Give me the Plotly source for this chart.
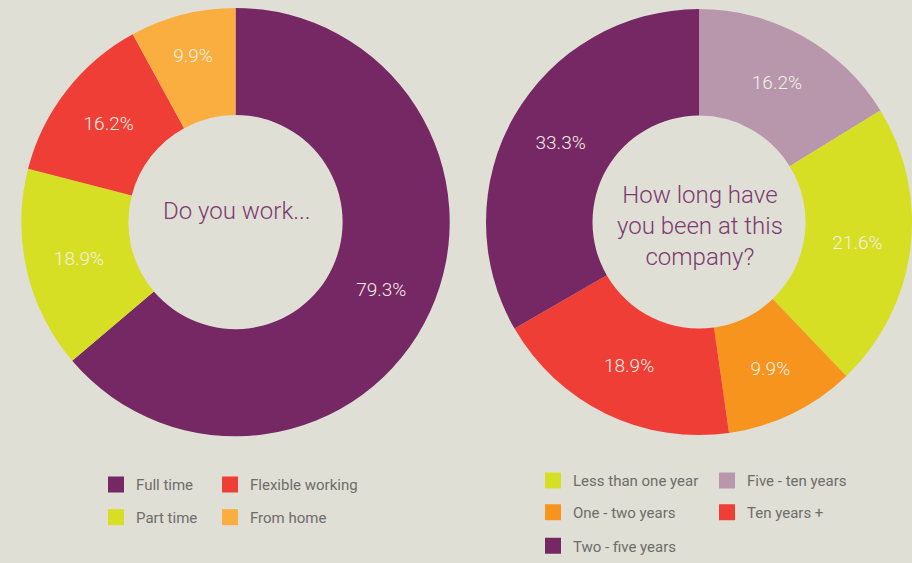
import plotly.graph_objects as go

# ---- data ----
work_labels = ["Full time", "Part time", "Flexible working", "From home"]
work_values = [79.3, 18.9, 16.2, 9.9]

tenure_labels = ["Five - ten years", "Less than one year", "One - two years", "Ten years +", "Two - five years"]
tenure_values = [16.2, 21.6, 9.9, 18.9, 33.3]

work_title = "Do you work..."
tenure_title = "How long have<br>you been at this<br>company?"

# ---- styles ----
PURPLE = "#752864"
LIME = "#d6df24"
RED = "#ef3e36"
LIGHT_ORANGE = "#fbae40"
ORANGE = "#f7941d"
MAUVE = "#b897ac"
BG = "#e0dfd5"
TITLE_COLOR = "#7b3a70"
LABEL_COLOR = "#f4f0e6"
LEGEND_TEXT = "#6d6d6a"
FONT = "Roboto"

color_map = {
    "Full time": PURPLE, "Part time": LIME, "Flexible working": RED, "From home": LIGHT_ORANGE,
    "Five - ten years": MAUVE, "Less than one year": LIME, "One - two years": ORANGE,
    "Ten years +": RED, "Two - five years": PURPLE,
}

W, H = 912, 563

fig = go.Figure()

fig.add_trace(go.Pie(
    labels=work_labels, values=work_values, sort=False, direction="clockwise", rotation=0,
    hole=0.5, marker=dict(colors=[color_map[l] for l in work_labels], line=dict(width=0)),
    texttemplate="%{value:.1f}%", textposition="inside", insidetextorientation="horizontal",
    insidetextfont=dict(family=FONT, size=19, color=LABEL_COLOR, weight=300),
    domain=dict(x=[19 / W, 452 / W], y=[1 - 441 / H, 1 - 8 / H]),
    showlegend=False, hoverinfo="label+value",
))

fig.add_trace(go.Pie(
    labels=tenure_labels, values=tenure_values, sort=False, direction="clockwise", rotation=0,
    hole=0.5, marker=dict(colors=[color_map[l] for l in tenure_labels], line=dict(width=0)),
    texttemplate="%{value:.1f}%", textposition="inside", insidetextorientation="horizontal",
    insidetextfont=dict(family=FONT, size=19, color=LABEL_COLOR, weight=300),
    domain=dict(x=[486 / W, 1.0], y=[1 - 441 / H, 1 - 8 / H]),
    showlegend=False, hoverinfo="label+value",
))

title_font = dict(family=FONT, size=24, color=TITLE_COLOR, weight=300)
annotations = [
    dict(text=work_title, x=236 / W, y=1 - 213 / H, xref="paper", yref="paper",
         xanchor="center", yanchor="middle", showarrow=False, align="center", font=title_font),
    dict(text=tenure_title, x=700 / W, y=1 - 228 / H, xref="paper", yref="paper",
         xanchor="center", yanchor="middle", showarrow=False, align="center", font=title_font),
]

# legend entries laid out like the reference (rows of swatches)
legend_layout = [
    ("Full time", 108, 490), ("Flexible working", 222, 490),
    ("Part time", 108, 523), ("From home", 222, 523),
    ("Less than one year", 545, 486), ("Five - ten years", 719, 486),
    ("One - two years", 545, 518), ("Ten years +", 719, 518),
    ("Two - five years", 545, 552),
]

legends = {}
for i, (name, px, py) in enumerate(legend_layout):
    lname = "legend" if i == 0 else f"legend{i + 1}"
    fig.add_trace(go.Scatter(
        x=[None], y=[None], mode="markers", name=name, legend=lname, showlegend=True,
        marker=dict(symbol="square", size=18, color=color_map[name], line=dict(width=0)),
        hoverinfo="skip",
    ))
    legends[lname] = dict(
        x=(px - 12) / W, y=1 - py / H, xanchor="left", yanchor="middle",
        orientation="v", bgcolor="rgba(0,0,0,0)", borderwidth=0,
        font=dict(family=FONT, size=15, color=LEGEND_TEXT),
        itemclick=False, itemdoubleclick=False,
    )

fig.update_layout(
    width=W, height=H,
    margin=dict(l=0, r=0, t=0, b=0),
    paper_bgcolor=BG, plot_bgcolor="rgba(0,0,0,0)",
    xaxis=dict(visible=False), yaxis=dict(visible=False),
    annotations=annotations,
    **legends,
)

fig.write_html(
    "out.html",
    config={"displayModeBar": False},
    post_script="document.body.style.margin='0';document.body.style.background='%s';" % BG,
)
